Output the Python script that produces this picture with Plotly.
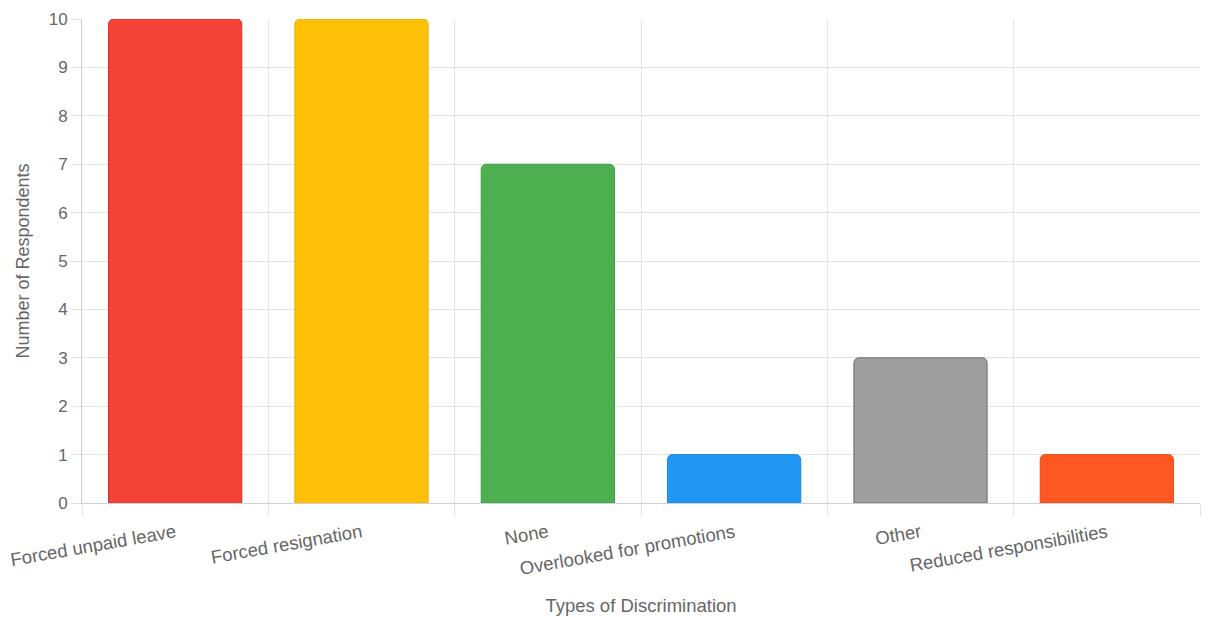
import plotly.graph_objects as go

categories = ["Forced unpaid leave", "Forced resignation", "None",
              "Overlooked for promotions", "Other", "Reduced responsibilities"]
respondents = [10, 10, 7, 1, 3, 1]
fill_colors = ["#F44336", "#FFC107", "#4CAF50", "#2196F3", "#9E9E9E", "#FF5722"]
border_colors = ["#D8302A", "#F0AE00", "#3E9B42", "#1C86DA", "#6E6E6E", "#E64A19"]
y_ticks = list(range(0, 11))

FONT = "Liberation Sans, Arial, Helvetica, sans-serif"
TXT = "#666666"
GRID = "#e3e3e3"

fig = go.Figure(go.Bar(
    x=categories,
    y=respondents,
    marker=dict(color=fill_colors, line=dict(color=border_colors, width=1),
                cornerradius=5),
    hoverinfo="x+y",
))

fig.update_layout(
    width=1214, height=609,
    margin=dict(l=74, r=22, t=11, b=114),
    paper_bgcolor="white", plot_bgcolor="white",
    bargap=0.285,
    showlegend=False,
    font=dict(family=FONT, size=18, color=TXT),
)

fig.update_xaxes(
    type="category",
    tickson="boundaries",
    showgrid=True, gridcolor=GRID, gridwidth=1,
    ticks="outside", ticklen=12, tickcolor=GRID,
    tickangle=-10,
    ticklabelstandoff=11,
    tickfont=dict(family=FONT, size=18.5, color=TXT),
    showline=True, linecolor="#d0d0d0", linewidth=1,
    automargin=False,
    title=dict(text="Types of Discrimination", font=dict(family=FONT, size=18.5, color=TXT), standoff=21),
)
fig.update_yaxes(
    range=[0, 10],
    tickvals=y_ticks,
    showgrid=True, gridcolor=GRID, gridwidth=1,
    ticks="outside", ticklen=10, tickcolor=GRID,
    tickfont=dict(family=FONT, size=17, color=TXT),
    showline=True, linecolor="#d0d0d0", linewidth=1,
    zeroline=False,
    automargin=False,
    title=dict(text="Number of Respondents", font=dict(family=FONT, size=18, color=TXT), standoff=14),
)

fig.write_html("out.html")
